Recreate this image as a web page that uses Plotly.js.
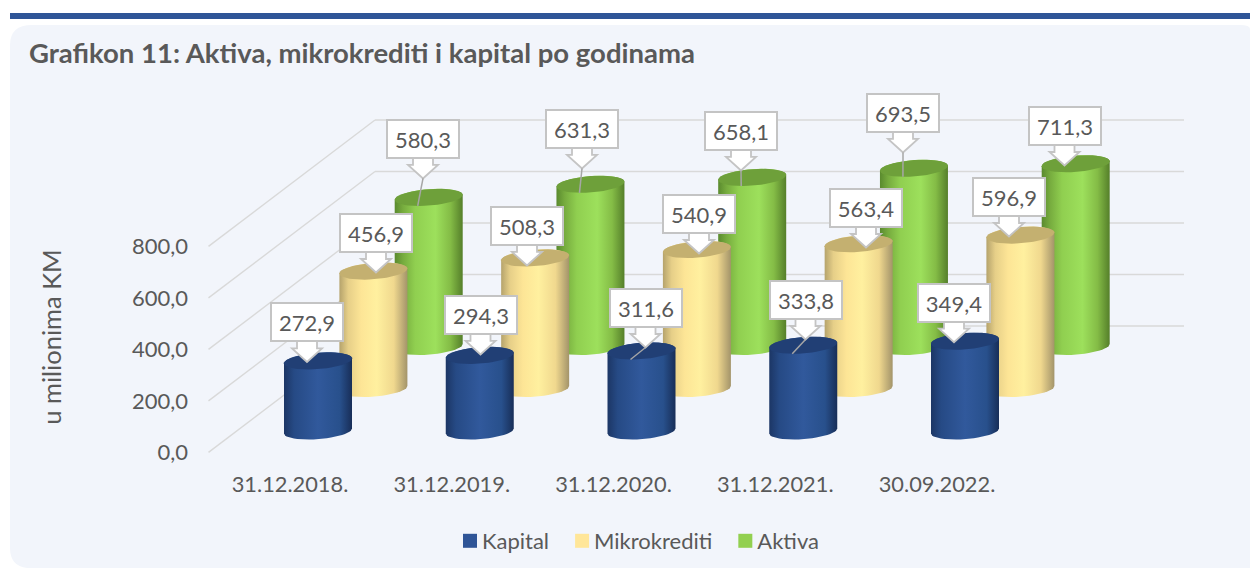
<!DOCTYPE html>
<html>
<head>
<meta charset="utf-8">
<script src="https://cdn.plot.ly/plotly-3.0.1.min.js"></script>
<style>html,body{margin:0;padding:0;background:#fff}#chart{width:1250px;height:568px}</style>
</head>
<body>
<div id="chart"></div>
<script>
// ---- data ----
var categories = ['31.12.2018.', '31.12.2019.', '31.12.2020.', '31.12.2021.', '30.09.2022.'];
var kapital = [272.9, 294.3, 311.6, 333.8, 349.4];
var mikrokrediti = [456.9, 508.3, 540.9, 563.4, 596.9];
var aktiva = [580.3, 631.3, 658.1, 693.5, 711.3];
var valueTicks = [0, 200, 400, 600, 800];

// ---- label placement (px from the cylinder's top centre) ----
var kapitalLabelOffset = [[-11, -38.4], [0.75, -40.4], [4, -42.9], [2.25, -45.2], [-11, -38.5]];
var mikroLabelOffset = [[2.6, -38.1], [-8.15, -31.9], [2.1, -35.5], [7.35, -35.7], [-11.4, -38.1]];
var aktivaLabelOffset = [[-5.7, -58.4], [-8.45, -55.3], [-11.2, -46.4], [-10.95, -55.3], [-11.2, -37.7]];
var kapitalLeader = [false, false, true, true, false];
var mikroLeader = [false, false, false, false, false];
var aktivaLeader = [true, true, true, true, false];

// ---- geometry of the oblique view ----
var W = 1250, H = 568;
var pitch = 161.75, k = 0.257, A = 34, B = 8.2, S = 2.5;
var grey = '#595959', font = 'Lato, "Open Sans", sans-serif';
var series = [
  {name: 'Aktiva', values: aktiva, off: aktivaLabelOffset, leader: aktivaLeader, cx: 428.7, cy: 346.5,
   color: 'rgb(146,208,80)', cap: 'rgb(110,160,58)', rank: 3,
   stops: [[0, '#5a8a2e'], [0.12, '#76ab3e'], [0.3, '#90cf50'], [0.6, '#9de05c'], [0.82, '#84bc46'], [1, '#557f2a']]},
  {name: 'Mikrokrediti', values: mikrokrediti, off: mikroLabelOffset, leader: mikroLeader, cx: 373.4, cy: 388.5,
   color: 'rgb(255,230,153)', cap: 'rgb(196,176,112)', rank: 2,
   stops: [[0, '#b5a36c'], [0.13, '#e6cf88'], [0.32, '#fde596'], [0.55, '#fff09f'], [0.8, '#f0d88e'], [1, '#a3946a']]},
  {name: 'Kapital', values: kapital, off: kapitalLabelOffset, leader: kapitalLeader, cx: 318, cy: 431,
   color: 'rgb(47,85,151)', cap: 'rgb(33,63,117)', rank: 1,
   stops: [[0, '#1c3665'], [0.15, '#264a85'], [0.5, '#31599c'], [0.82, '#28508c'], [1, '#182e58']]}
];

function px(x) { return x / W; }
function py(y) { return 1 - y / H; }

var traces = [], shapes = [], annotations = [];
var layout = {
  width: W, height: H, autosize: false,
  margin: {l: 0, r: 0, t: 0, b: 0, pad: 0},
  paper_bgcolor: '#ffffff', plot_bgcolor: 'rgba(0,0,0,0)',
  separators: ',.',
  font: {family: font, color: grey, size: 20},
  hovermode: false,
  title: {text: 'Grafikon 11: Aktiva, mikrokrediti i kapital po godinama',
          x: px(29), xanchor: 'left', xref: 'paper', y: py(53), yanchor: 'middle', yref: 'paper',
          font: {family: font, size: 27.5, weight: 700, color: grey}},
  legend: {orientation: 'h', x: px(442), xanchor: 'left', y: py(541), yanchor: 'middle',
           bgcolor: 'rgba(0,0,0,0)', font: {family: font, size: 22, color: grey}, itemclick: false, itemdoubleclick: false}
};

// panel and top rule
shapes.push({type: 'rect', xref: 'paper', yref: 'paper', layer: 'below', x0: px(10), x1: 1, y0: py(13), y1: py(19),
             fillcolor: '#2f5597', line: {width: 0}});
shapes.push({type: 'path', xref: 'paper', yref: 'paper', layer: 'below', fillcolor: '#f2f5fb', line: {width: 0},
  path: 'M' + px(10) + ',' + py(45) + ' Q' + px(10) + ',' + py(25) + ' ' + px(32) + ',' + py(25) +
        ' L' + px(1240) + ',' + py(25) + ' Q' + px(1250) + ',' + py(25) + ' ' + px(1250) + ',' + py(29) +
        ' L' + px(1250) + ',' + py(568) + ' L' + px(27) + ',' + py(568) +
        ' Q' + px(10) + ',' + py(566) + ' ' + px(10) + ',' + py(548) + ' Z'});

// wall axes: value scale, dates and grid
var wallK = 0.2575, wallZero = 452.4, wallTop = 106;
layout.xaxis = {domain: [0, 1], range: [-290 / pitch, (W - 290) / pitch], anchor: 'free', position: py(469),
  tickmode: 'array', tickvals: categories.map(function (c, i) { return i; }), ticktext: categories,
  showgrid: false, zeroline: false, showline: false, ticks: '', tickfont: {family: font, size: 21.8, color: grey}, fixedrange: true};
layout.yaxis = {domain: [0, py(wallTop)], range: [(wallZero - H) / wallK, (wallZero - wallTop) / wallK], anchor: 'free', position: px(188),
  tickmode: 'array', tickvals: valueTicks, tickformat: '.1f', showgrid: false, zeroline: false, showline: false, ticks: '',
  tickfont: {family: font, size: 22, color: grey}, ticklabelshift: -1.5, fixedrange: true,
  title: {text: 'u milionima KM', standoff: 62, font: {family: font, size: 25.5, color: grey}}};
traces.push({type: 'scatter', x: [0], y: [0], xaxis: 'x', yaxis: 'y', mode: 'none', showlegend: false, hoverinfo: 'skip'});
valueTicks.forEach(function (t) {
  var back = t + 126.4 / wallK;
  var ln = {color: '#d9d9d9', width: 1.4};
  shapes.push({type: 'line', xref: 'paper', yref: 'y', layer: 'below', x0: px(208.5), x1: px(375), y0: t, y1: back, line: ln});
  shapes.push({type: 'line', xref: 'paper', yref: 'y', layer: 'below', x0: px(375), x1: px(1184), y0: back, y1: back, line: ln});
});

// one overlapping subplot per depth row: back row first
series.forEach(function (s, si) {
  var n = si + 2, xa = 'x' + n, ya = 'y' + n;
  layout['xaxis' + n] = {domain: [0, 1], range: [-s.cx / pitch, (W - s.cx) / pitch], anchor: ya, visible: false, fixedrange: true};
  layout['yaxis' + n] = {domain: [0, 1], range: [(s.cy - H) / k, s.cy / k], anchor: xa, visible: false, fixedrange: true};

  traces.push({type: 'bar', name: s.name, x: categories.map(function (c, i) { return i; }), y: s.values,
    xaxis: xa, yaxis: ya, width: 60 / pitch, marker: {color: s.color, line: {width: 0}},
    legendrank: s.rank, hoverinfo: 'skip'});

  s.values.forEach(function (v, i) {
    var sx = [], sy = [], cx = [], cy = [], t, N = 24;
    function X(u) { return i + u / pitch; }
    function Y(base, u) { return base - u / k; }
    // cylinder silhouette: lower arc of the foot, upper arc of the top
    for (t = 0; t <= N; t++) {
      var a = Math.PI * t / N;
      sx.push(X(A * Math.cos(a))); sy.push(Y(0, -S * Math.cos(a) + B * Math.sin(a)));
    }
    for (t = 0; t <= N; t++) {
      var b = Math.PI + Math.PI * t / N;
      sx.push(X(A * Math.cos(b))); sy.push(Y(v, -S * Math.cos(b) + B * Math.sin(b)));
    }
    traces.push({type: 'scatter', x: sx, y: sy, xaxis: xa, yaxis: ya, mode: 'lines', fill: 'toself',
      fillcolor: s.color, line: {width: 0}, showlegend: false, hoverinfo: 'skip'});
    // top cap
    for (t = 0; t <= 2 * N; t++) {
      var c = Math.PI * t / N;
      cx.push(X(A * Math.cos(c))); cy.push(Y(v, -S * Math.cos(c) + B * Math.sin(c)));
    }
    traces.push({type: 'scatter', x: cx, y: cy, xaxis: xa, yaxis: ya, mode: 'lines', fill: 'toself',
      fillcolor: s.cap, line: {width: 0}, showlegend: false, hoverinfo: 'skip'});

    // callout
    var bx = s.off[i][0], by = s.off[i][1];
    annotations.push({xref: xa, yref: ya, x: i, y: v, xshift: bx, yshift: -by, showarrow: false,
      text: v.toFixed(1).replace('.', ','), width: 70, height: 36, borderwidth: 2, borderpad: 0, bordercolor: '#c4c4c4', bgcolor: '#ffffff',
      align: 'center', valign: 'middle', font: {family: font, size: 22, color: grey}});
    var pts = [[-10, 17], [-10, 26], [-15, 26], [0, 39.5], [15, 26], [10, 26], [10, 17]];
    shapes.push({type: 'path', layer: 'above', xref: xa, yref: ya, xsizemode: 'pixel', ysizemode: 'pixel', xanchor: i, yanchor: v,
      fillcolor: '#ffffff', line: {color: '#c4c4c4', width: 1.8},
      path: 'M' + pts.map(function (p) { return (bx + p[0]) + ',' + (-(by + p[1])); }).join(' L') + ' Z'});
    if (s.leader[i]) {
      shapes.push({type: 'path', layer: 'above', xref: xa, yref: ya, xsizemode: 'pixel', ysizemode: 'pixel', xanchor: i, yanchor: v,
        line: {color: '#a6a6a6', width: 1.5},
        path: 'M' + bx + ',' + (-(by + 39.5)) + ' L-11,-8.6'});
    }
  });
});

layout.shapes = shapes;
layout.annotations = annotations;

Plotly.newPlot('chart', traces, layout, {displayModeBar: false, staticPlot: true}).then(function (gd) {
  // cylinder shading: a horizontal gradient on each silhouette fill
  var svg = gd.querySelector('.main-svg');
  var defs = svg.querySelector('defs');
  var NS = 'http://www.w3.org/2000/svg';
  var byColor = {};
  series.forEach(function (s, si) {
    var g = document.createElementNS(NS, 'linearGradient');
    g.setAttribute('id', 'cyl' + si);
    g.setAttribute('x1', '0'); g.setAttribute('x2', '1'); g.setAttribute('y1', '0'); g.setAttribute('y2', '0');
    s.stops.forEach(function (st) {
      var e = document.createElementNS(NS, 'stop');
      e.setAttribute('offset', st[0]); e.setAttribute('stop-color', st[1]);
      g.appendChild(e);
    });
    defs.appendChild(g);
    byColor[s.color.replace(/\s/g, '')] = 'url(#cyl' + si + ')';
  });
  gd.querySelectorAll('.scatterlayer .js-fill').forEach(function (p) {
    var f = (p.style.fill || '').replace(/\s/g, '');
    if (byColor[f]) p.style.fill = byColor[f];
  });
  // legend swatches: larger and closer to their text
  gd.querySelectorAll('.legend .traces').forEach(function (tr) {
    var sym = tr.querySelector('.legendsymbols');
    if (sym) sym.setAttribute('transform', 'translate(8,0)');
    tr.querySelectorAll('.legendpoints path').forEach(function (p) {
      p.setAttribute('d', 'M7,7H-7V-7H7Z');
    });
  });
});
</script>
</body>
</html>
